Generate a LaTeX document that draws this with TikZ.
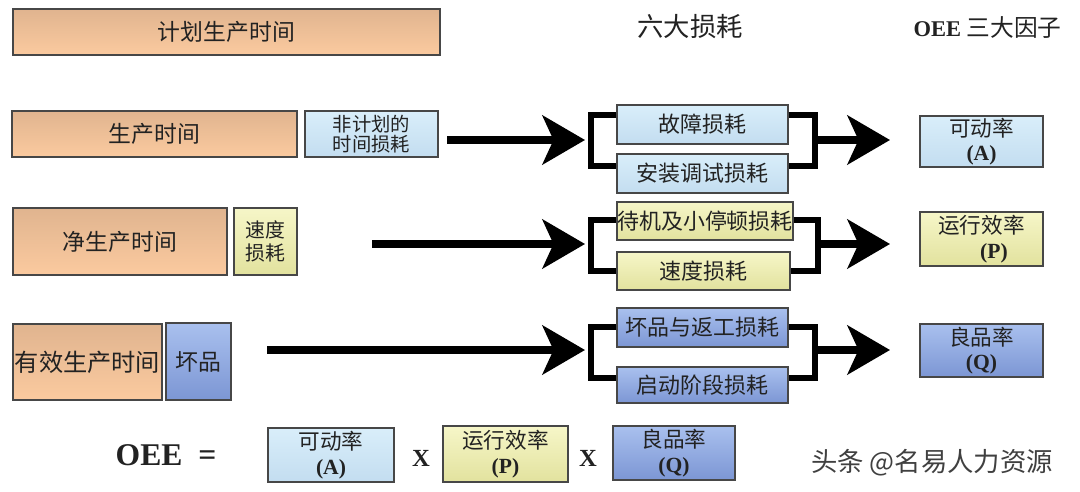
\documentclass[tikz,border=0pt]{standalone}
\usepackage{fontspec}
\setmainfont{Liberation Serif}
\newfontfamily\cjk{Noto Sans CJK SC}
\usepackage{tikz}
\usetikzlibrary{arrows.meta,calc,positioning}

\definecolor{orA}{HTML}{E0B48F}
\definecolor{orB}{HTML}{FBCA9F}
\definecolor{lbA}{HTML}{D9EEFA}
\definecolor{lbB}{HTML}{C3DDF0}
\definecolor{ylA}{HTML}{F6F6C8}
\definecolor{ylB}{HTML}{E2E29E}
\definecolor{dbA}{HTML}{A9C0EE}
\definecolor{dbB}{HTML}{7C96D4}
\definecolor{boxline}{HTML}{474747}
\definecolor{txt}{HTML}{222222}

\begin{document}
\begin{tikzpicture}[x=0.02cm,y=-0.02cm,>={Stealth[length=0.85cm,width=0.98cm,inset=0.22cm]},
  box/.style 2 args={draw=boxline,line width=0.8pt,minimum width=#1*0.02cm,minimum height=#2*0.02cm,
    inner sep=0pt,align=center,text=txt,font=\cjk\fontsize{13}{15}\selectfont},
  orange/.style={top color=orA,bottom color=orB},
  lblue/.style={top color=lbA,bottom color=lbB},
  yellow/.style={top color=ylA,bottom color=ylB},
  dblue/.style={top color=dbA,bottom color=dbB},
  loss/.style={font=\cjk\fontsize{12.5}{14}\selectfont},
  factor/.style={font=\cjk\fontsize{12.3}{14}\selectfont},
  arr/.style={->,line width=4pt},
  brk/.style={line width=3.6pt,line join=miter}]
\fill[white] (0,0) rectangle (1080,491);
\useasboundingbox (0,0) rectangle (1080,491);

% left side: time
\node[box={427}{46},orange] (plan) at (226.5,32) {计划生产时间};
\node[box={285}{46},orange] (prod) at (154.5,134) {生产时间};
\node[box={133}{46},lblue,font=\cjk\fontsize{11}{11.5}\selectfont] (unpl) at (371.5,134) {非计划的\\时间损耗};
\node[box={214}{67},orange] (net) at (120,241.5) {净生产时间};
\node[box={63}{67},yellow,font=\cjk\fontsize{11.3}{13}\selectfont] (spdl) at (265.5,241.5) {速度\\损耗};
\node[box={149}{76},orange,font=\cjk\fontsize{13.8}{15}\selectfont] (eff) at (87.5,362) {有效生产时间};
\node[box={65}{77},dblue] (bad) at (198.5,361.5) {坏品};

% headers
\node[text=txt] (hloss) at (690,27) {\cjk\fontsize{15}{17}\selectfont 六大损耗};
\node[text=txt] (hfac) at (987.5,27) {\fontsize{12.8}{15}\selectfont\bfseries OEE \cjk\mdseries\fontsize{13.5}{15}\selectfont 三大因子};

% six losses
\node[box={171}{39},lblue,loss] (gz) at (702.5,124.5) {故障损耗};
\node[box={171}{39},lblue,loss] (az) at (702.5,173.5) {安装调试损耗};
\node[box={176}{38},yellow,loss] (dj) at (705,221) {待机及小停顿损耗};
\node[box={173}{38},yellow,loss] (sd) at (703.5,271) {速度损耗};
\node[box={171}{39},dblue,loss] (fg) at (702.5,327.5) {坏品与返工损耗};
\node[box={171}{36},dblue,loss] (qd) at (702.5,385) {启动阶段损耗};

% three factors
\node[box={123}{51},lblue,factor] (fa) at (981.5,141.5) {可动率\\{\rmfamily\bfseries (A)}};
\node[box={123}{54},yellow,factor] (fp) at (981.5,239) {运行效率\\\hspace*{0.5cm}{\rmfamily\bfseries (P)}};
\node[box={123}{53},dblue,factor] (fq) at (981.5,350.5) {良品率\\{\rmfamily\bfseries (Q)}};

% brackets and arrows
\coordinate (s1) at (447,140); \coordinate (i1) at (585,140); \coordinate (t1) at (890,140);
\coordinate (l1t) at (591,115); \coordinate (l1b) at (591,166);
\coordinate (r1t) at (815,115); \coordinate (r1b) at (815,166);
\draw[brk] (l1t -| gz.west) -- (l1t) -- (l1b) -- (l1b -| az.west);
\draw[brk] (r1t -| gz.east) -- (r1t) -- (r1b) -- (r1b -| az.east);
\draw[arr] (s1) -- (i1); \draw[arr] (r1t |- t1) -- (t1);

\coordinate (s2) at (372,244); \coordinate (i2) at (585,244); \coordinate (t2) at (890,244);
\coordinate (l2t) at (591,220); \coordinate (l2b) at (591,271);
\coordinate (r2t) at (818,220); \coordinate (r2b) at (818,271);
\draw[brk] (l2t -| dj.west) -- (l2t) -- (l2b) -- (l2b -| sd.west);
\draw[brk] (r2t -| dj.east) -- (r2t) -- (r2b) -- (r2b -| sd.east);
\draw[arr] (s2) -- (i2); \draw[arr] (r2t |- t2) -- (t2);

\coordinate (s3) at (267,350); \coordinate (i3) at (585,350); \coordinate (t3) at (890,350);
\coordinate (l3t) at (591,327); \coordinate (l3b) at (591,378);
\coordinate (r3t) at (815,327); \coordinate (r3b) at (815,378);
\draw[brk] (l3t -| fg.west) -- (l3t) -- (l3b) -- (l3b -| qd.west);
\draw[brk] (r3t -| fg.east) -- (r3t) -- (r3b) -- (r3b -| qd.east);
\draw[arr] (s3) -- (i3); \draw[arr] (r3t |- t3) -- (t3);

% formula
\node[text=txt] (oee) at (166,455) {\fontsize{18}{20}\selectfont\bfseries OEE\ \ =};
\node[box={126}{54},lblue,factor] (ba) at (331,455) {可动率\\{\rmfamily\bfseries (A)}};
\node[text=txt] (x1) at (421,458) {\fontsize{14}{16}\selectfont\bfseries X};
\node[box={125}{56},yellow,factor] (bp) at (505.5,454) {运行效率\\{\rmfamily\bfseries (P)}};
\node[text=txt] (x2) at (588,458) {\fontsize{14}{16}\selectfont\bfseries X};
\node[box={122}{54},dblue,factor] (bq) at (674,453) {良品率\\{\rmfamily\bfseries (Q)}};
\node[text=black!75] (wm) at (932,463) {\cjk\fontsize{15}{17}\selectfont 头条 @名易人力资源};
\end{tikzpicture}
\end{document}
